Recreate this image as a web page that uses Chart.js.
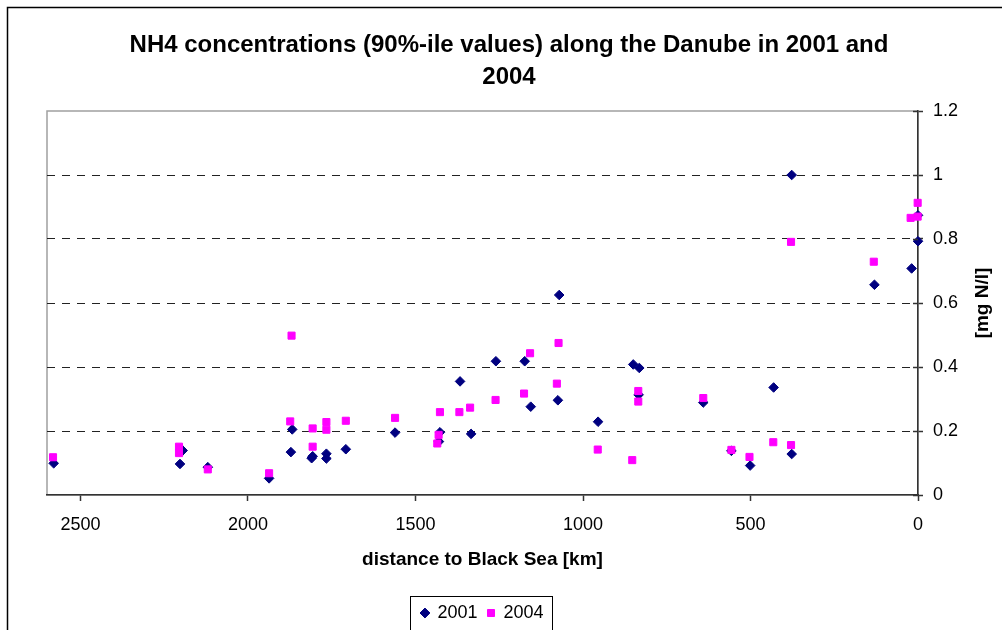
<!DOCTYPE html>
<html>
<head>
<meta charset="utf-8">
<script src="https://cdn.jsdelivr.net/npm/chart.js@4/dist/chart.umd.min.js"></script>
<style>
  body { margin: 0; background: #fff; }
  canvas { display: block; }
</style>
</head>
<body>
<canvas id="nh4" width="1002" height="630"></canvas>
<script>
// distance to Black Sea [km] and 90%-ile NH4 [mg N/l]
var km2001 = [2580, 2203, 2195, 2120, 1937, 1868, 1872, 1807, 1810, 1766, 1766, 1708,
  1561, 1427, 1430, 1367, 1334, 1260, 1174, 1156, 1071, 1075, 955, 850, 832, 834,
  641, 557, 501, 431, 377, 377, 130, 19, 0, 0];
var nh4_2001 = [0.099, 0.097, 0.139, 0.087, 0.052, 0.205, 0.134, 0.121, 0.115, 0.129, 0.114, 0.143,
  0.195, 0.196, 0.167, 0.355, 0.191, 0.418, 0.418, 0.276, 0.625, 0.296, 0.229, 0.408, 0.397, 0.313,
  0.289, 0.138, 0.092, 0.336, 1.0, 0.128, 0.657, 0.708, 0.874, 0.793];

var km2004 = [2582, 2206, 2206, 2120, 1937, 1870, 1874, 1807, 1807, 1766, 1766, 1708,
  1561, 1427, 1431, 1435, 1369, 1337, 1261, 1176, 1158, 1073, 1078, 956, 853, 835, 835,
  641, 557, 503, 432, 379, 379, 132, 22, 1, 1];
var nh4_2004 = [0.118, 0.151, 0.131, 0.080, 0.068, 0.498, 0.230, 0.208, 0.151, 0.228, 0.204, 0.232,
  0.241, 0.259, 0.188, 0.161, 0.259, 0.273, 0.297, 0.317, 0.443, 0.475, 0.348, 0.142, 0.109, 0.325, 0.292,
  0.303, 0.141, 0.119, 0.165, 0.791, 0.156, 0.729, 0.866, 0.913, 0.870];

var xTicks = [0, 500, 1000, 1500, 2000, 2500];
var yTicks = [0, 0.2, 0.4, 0.6, 0.8, 1, 1.2];

var FONT = "'Liberation Sans', Arial, sans-serif";

function points(xs, ys) {
  return xs.map(function (x, i) { return { x: x, y: ys[i] }; });
}

// frame, plot border, inner tick halves, y title, legend box
var decor = {
  id: "decor",
  beforeDraw: function (chart) {
    var ctx = chart.ctx, a = chart.chartArea;
    ctx.save();
    ctx.fillStyle = "#fff";
    ctx.fillRect(0, 0, chart.width, chart.height);
    ctx.strokeStyle = "#000";
    ctx.lineWidth = 1.5;
    ctx.strokeRect(7.5, 7.5, 2000, 2000);
    ctx.strokeStyle = "#a0a0a0";
    ctx.lineWidth = 1.5;
    ctx.strokeRect(a.left, a.top, a.right - a.left, a.bottom - a.top);
    ctx.restore();
  },
  afterDraw: function (chart) {
    var ctx = chart.ctx, a = chart.chartArea, ys = chart.scales.y;
    ctx.save();
    ctx.strokeStyle = "#333";
    ctx.lineWidth = 1.5;
    yTicks.forEach(function (v) {
      var y = Math.round(ys.getPixelForValue(v)) + 0.5;
      ctx.beginPath();
      ctx.moveTo(a.right - 5, y);
      ctx.lineTo(a.right, y);
      ctx.stroke();
    });
    ctx.fillStyle = "#000";
    ctx.font = "bold 19px " + FONT;
    ctx.textAlign = "center";
    ctx.textBaseline = "middle";
    ctx.translate(983, (a.top + a.bottom) / 2);
    ctx.rotate(-Math.PI / 2);
    ctx.fillText("[mg N/l]", 0, 0);
    ctx.restore();

    var hb = chart.legend.legendHitBoxes;
    if (hb && hb.length) {
      var last = hb[hb.length - 1];
      var l = hb[0].left - 11, r = last.left + last.width + 9;
      var cy = hb[0].top + 9;
      ctx.save();
      ctx.strokeStyle = "#000";
      ctx.lineWidth = 1;
      ctx.strokeRect(Math.round(l) + 0.5, Math.round(cy - 17) + 0.5, Math.round(r - l), 34);
      ctx.restore();
    }
  }
};

new Chart(document.getElementById("nh4"), {
  type: "scatter",
  data: {
    datasets: [
      {
        label: "2001",
        data: points(km2001, nh4_2001),
        pointStyle: "rectRot",
        pointRadius: 4.8,
        borderWidth: 1,
        backgroundColor: "#000080",
        borderColor: "#000080",
        clip: false,
        order: 2
      },
      {
        label: "2004",
        data: points(km2004, nh4_2004),
        pointStyle: "rect",
        pointRadius: 5,
        borderWidth: 1,
        backgroundColor: "#ff00ff",
        borderColor: "#ff00ff",
        clip: false,
        order: 1
      }
    ]
  },
  options: {
    responsive: false,
    animation: false,
    devicePixelRatio: 1,
    layout: { padding: { left: 47, right: 31, top: 1, bottom: -2 } },
    plugins: {
      title: {
        display: true,
        text: ["NH4 concentrations (90%-ile values) along the Danube in 2001 and", "2004"],
        color: "#000",
        font: { family: FONT, size: 24, weight: "bold", lineHeight: 32 / 24 },
        padding: { top: 28, bottom: 18 }
      },
      legend: {
        position: "bottom",
        fullSize: false,
        labels: {
          usePointStyle: true,
          boxWidth: 7,
          boxHeight: 7,
          padding: 10,
          color: "#000",
          font: { family: FONT, size: 18 },
          sort: function (a, b) { return a.datasetIndex - b.datasetIndex; }
        }
      },
      tooltip: { enabled: false }
    },
    scales: {
      x: {
        type: "linear",
        position: "bottom",
        reverse: true,
        min: 0,
        max: 2600,
        afterBuildTicks: function (s) { s.ticks = xTicks.map(function (v) { return { value: v }; }); },
        afterFit: function (s) { s.height = 99; },
        ticks: {
          color: "#000",
          font: { family: FONT, size: 18 },
          padding: 13,
          maxRotation: 0,
          autoSkip: false,
          callback: function (v) { return String(v); }
        },
        grid: { drawOnChartArea: false, drawTicks: true, tickLength: 6, tickColor: "#333", tickWidth: 1.5 },
        border: { display: true, color: "#333", width: 1.5 },
        title: {
          display: true,
          text: "distance to Black Sea [km]",
          color: "#000",
          font: { family: FONT, size: 19, weight: "bold" },
          padding: { top: 0, bottom: 23 }
        }
      },
      y: {
        position: "right",
        min: 0,
        max: 1.2,
        afterBuildTicks: function (s) { s.ticks = yTicks.map(function (v) { return { value: v }; }); },
        afterFit: function (s) { s.width = 53; },
        ticks: {
          color: "#000",
          font: { family: FONT, size: 18 },
          padding: 10,
          callback: function (v) { return String(v); }
        },
        grid: {
          color: function (c) {
            var v = c.tick ? c.tick.value : null;
            return (v === 0 || v === 1.2) ? "rgba(0,0,0,0)" : "#222";
          },
          lineWidth: 1,
          tickLength: 5,
          tickColor: "#333",
          tickWidth: 1.5
        },
        border: { display: true, color: "#333", width: 1.5, dash: [8, 7] }
      }
    }
  },
  plugins: [decor]
});
</script>
</body>
</html>
